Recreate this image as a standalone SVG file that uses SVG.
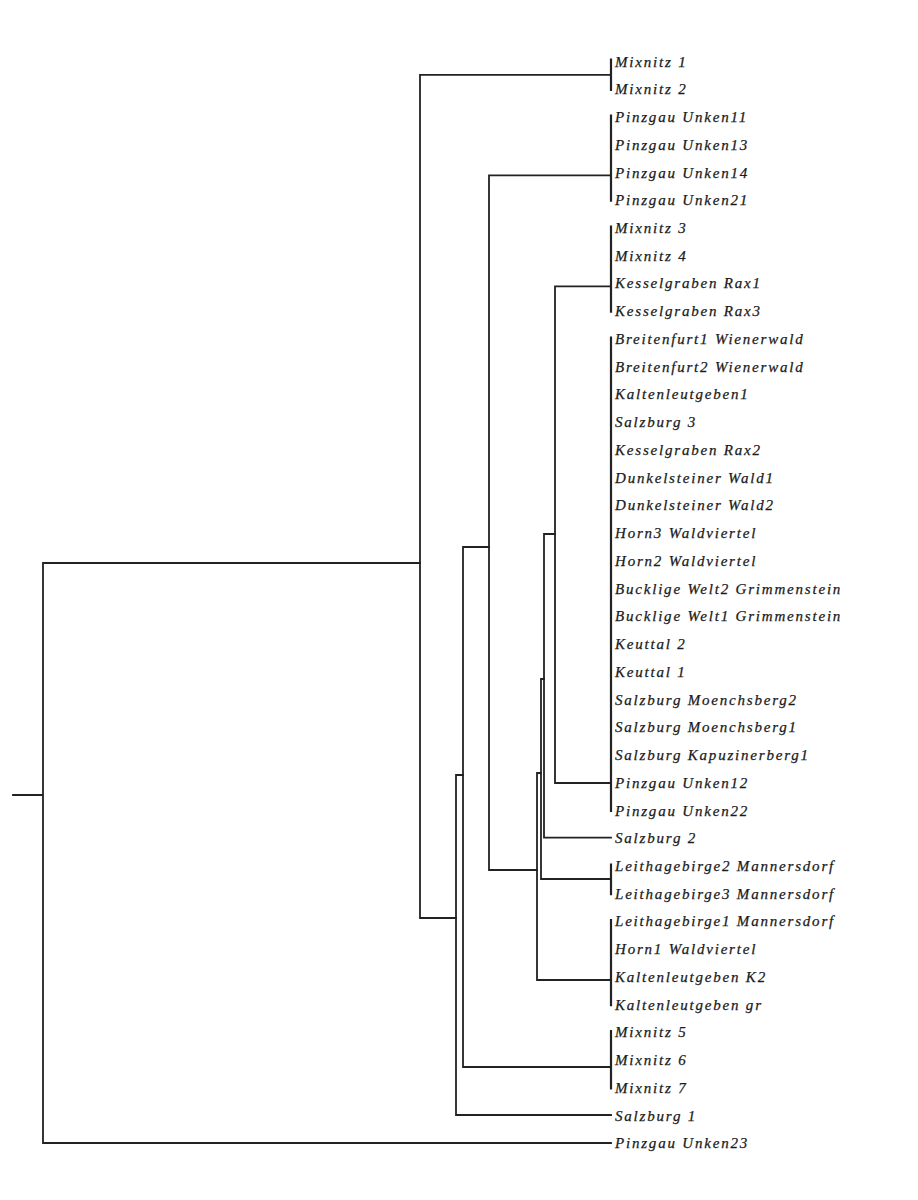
<svg xmlns="http://www.w3.org/2000/svg" width="918" height="1200" viewBox="0 0 918 1200">
<style>
.e{stroke:#222;stroke-width:1.8;fill:none;stroke-linecap:square}
.b{stroke:#222;stroke-width:2.2;fill:none}
text{font-family:"Liberation Serif","Times New Roman",serif;font-style:italic;font-size:15px;letter-spacing:1.8px;fill:#1a1a1a;stroke:#1a1a1a;stroke-width:0.25}
</style>
<rect width="918" height="1200" fill="#fff"/>
<g id="connectors">
<path class="e" d="M13,795H43 M43,563V1143 M43,563H420 M43,1143H611"/>
<path class="e" d="M420,74.9V918 M420,74.9H611 M420,918H456"/>
<path class="e" d="M456,775V1115 M456,775H463 M456,1115H611"/>
<path class="e" d="M463,547V1067 M463,547H489 M463,1067H611"/>
<path class="e" d="M489,175.4V870 M489,175.4H611 M489,870H537"/>
<path class="e" d="M537,773V980 M537,773H541 M537,980H611"/>
<path class="e" d="M541,679V879 M541,679H544 M541,879H611"/>
<path class="e" d="M544,534V837.7 M544,534H555 M544,837.7H611"/>
<path class="e" d="M555,286.4V783 M555,286.4H611 M555,783H611"/>
<path class="b" d="M611,58.5V91 M611,114.5V201.7 M611,225.4V312.7 M611,336.4V812 M611,863.5V895.2 M611,918.9V1006.2 M611,1029.9V1089.4"/>
</g>
<g id="leaves">
<g id="n1"><text x="615" y="66.5">Mixnitz 1</text></g>
<g id="n2"><text x="615" y="94.2">Mixnitz 2</text></g>
<g id="n3"><text x="615" y="122">Pinzgau Unken11</text></g>
<g id="n4"><text x="615" y="149.7">Pinzgau Unken13</text></g>
<g id="n5"><text x="615" y="177.5">Pinzgau Unken14</text></g>
<g id="n6"><text x="615" y="205.2">Pinzgau Unken21</text></g>
<g id="n7"><text x="615" y="232.9">Mixnitz 3</text></g>
<g id="n8"><text x="615" y="260.7">Mixnitz 4</text></g>
<g id="n9"><text x="615" y="288.4">Kesselgraben Rax1</text></g>
<g id="n10"><text x="615" y="316.2">Kesselgraben Rax3</text></g>
<g id="n11"><text x="615" y="343.9">Breitenfurt1 Wienerwald</text></g>
<g id="n12"><text x="615" y="371.6">Breitenfurt2 Wienerwald</text></g>
<g id="n13"><text x="615" y="399.4">Kaltenleutgeben1</text></g>
<g id="n14"><text x="615" y="427.1">Salzburg 3</text></g>
<g id="n15"><text x="615" y="454.9">Kesselgraben Rax2</text></g>
<g id="n16"><text x="615" y="482.6">Dunkelsteiner Wald1</text></g>
<g id="n17"><text x="615" y="510.3">Dunkelsteiner Wald2</text></g>
<g id="n18"><text x="615" y="538.1">Horn3 Waldviertel</text></g>
<g id="n19"><text x="615" y="565.8">Horn2 Waldviertel</text></g>
<g id="n20"><text x="615" y="593.6">Bucklige Welt2 Grimmenstein</text></g>
<g id="n21"><text x="615" y="621.3">Bucklige Welt1 Grimmenstein</text></g>
<g id="n22"><text x="615" y="649">Keuttal 2</text></g>
<g id="n23"><text x="615" y="676.8">Keuttal 1</text></g>
<g id="n24"><text x="615" y="704.5">Salzburg Moenchsberg2</text></g>
<g id="n25"><text x="615" y="732.3">Salzburg Moenchsberg1</text></g>
<g id="n26"><text x="615" y="760">Salzburg Kapuzinerberg1</text></g>
<g id="n27"><text x="615" y="787.7">Pinzgau Unken12</text></g>
<g id="n28"><text x="615" y="815.5">Pinzgau Unken22</text></g>
<g id="n29"><text x="615" y="843.2">Salzburg 2</text></g>
<g id="n30"><text x="615" y="871">Leithagebirge2 Mannersdorf</text></g>
<g id="n31"><text x="615" y="898.7">Leithagebirge3 Mannersdorf</text></g>
<g id="n32"><text x="615" y="926.4">Leithagebirge1 Mannersdorf</text></g>
<g id="n33"><text x="615" y="954.2">Horn1 Waldviertel</text></g>
<g id="n34"><text x="615" y="981.9">Kaltenleutgeben K2</text></g>
<g id="n35"><text x="615" y="1009.7">Kaltenleutgeben gr</text></g>
<g id="n36"><text x="615" y="1037.4">Mixnitz 5</text></g>
<g id="n37"><text x="615" y="1065.1">Mixnitz 6</text></g>
<g id="n38"><text x="615" y="1092.9">Mixnitz 7</text></g>
<g id="n39"><text x="615" y="1120.6">Salzburg 1</text></g>
<g id="n40"><text x="615" y="1148.4">Pinzgau Unken23</text></g>
</g>
</svg>
